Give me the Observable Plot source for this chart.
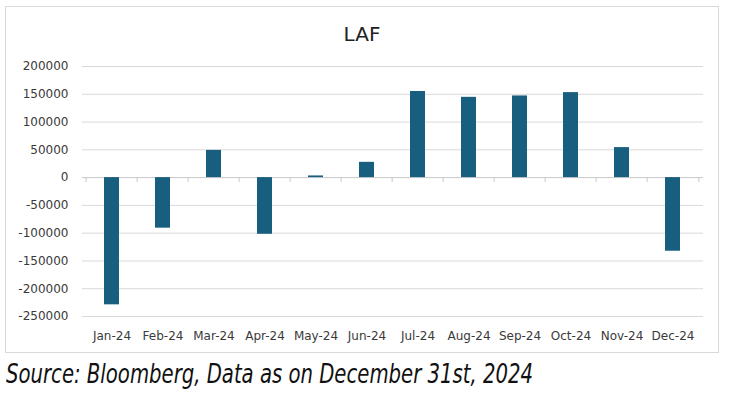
<!DOCTYPE html>
<html>
<head>
<meta charset="utf-8">
<script src="https://cdn.jsdelivr.net/npm/d3@7"></script>
<script src="https://cdn.jsdelivr.net/npm/@observablehq/plot@0.6"></script>
<style>
  html, body { margin: 0; padding: 0; background: #fff; width: 731px; height: 396px; overflow: hidden; }
  #frame { position: absolute; left: 5px; top: 6px; width: 712px; height: 345px; border: 1px solid #d9d9d9; }
  #title { position: absolute; left: 0; right: 0; top: 15px; text-align: center; font: 20px "DejaVu Sans", sans-serif; color: #222; }
  #chart { position: absolute; left: 0; top: 0; }
  #caption { position: absolute; left: 6px; top: 358px; white-space: nowrap; font-family: "DejaVu Sans Condensed", "DejaVu Sans", sans-serif; font-style: italic; font-size: 27px; line-height: 32px; color: #111; transform-origin: 0 0; }
</style>
</head>
<body>
<div id="frame">
  <div id="chart"></div>
  <div id="title">LAF</div>
</div>
<div id="caption">Source: Bloomberg, Data as on December 31st, 2024</div>
<script>
const months = ["Jan-24","Feb-24","Mar-24","Apr-24","May-24","Jun-24","Jul-24","Aug-24","Sep-24","Oct-24","Nov-24","Dec-24"];
const values = [-229000, -91000, 49000, -102000, 3000, 27500, 155000, 144500, 147000, 153000, 54000, -132500];
const yTicks = [200000, 150000, 100000, 50000, 0, -50000, -100000, -150000, -200000, -250000];

const data = months.map((m, i) => ({month: m, value: values[i]}));
const W = 712, H = 345, ML = 76, MR = 15;
const step = (W - ML - MR) / months.length;

const plot = Plot.plot({
  width: W, height: H,
  marginLeft: ML, marginRight: MR, marginTop: 59, marginBottom: 36,
  style: {fontFamily: "DejaVu Sans, sans-serif", fontSize: "12px", color: "#404040", background: "transparent"},
  x: {type: "band", domain: months, paddingInner: 0.7, paddingOuter: 0.35, label: null},
  y: {domain: [-250000, 200000], label: null},
  marks: [
    Plot.gridY(yTicks.filter(d => d !== 0), {stroke: "#d9d9d9", strokeOpacity: 1, strokeWidth: 1}),
    Plot.ruleY([0], {stroke: "#c8c8c8", strokeWidth: 1}),
    Plot.ruleX(months, {x: d => d, y1: 0, y2: -9000, dx: -step / 2, stroke: "#c8c8c8"}),
    Plot.ruleX(months.slice(-1), {x: d => d, y1: 0, y2: -9000, dx: step / 2, stroke: "#c8c8c8"}),
    Plot.barY(data, {x: "month", y: "value", fill: "#175e7f"}),
    Plot.axisY({ticks: yTicks, tickSize: 0, tickPadding: 14, tickFormat: d => String(d), fontSize: 12, fill: "#3a3a3a"}),
    Plot.axisX({tickSize: 0, tickPadding: 15, fontSize: 12, fill: "#3a3a3a", label: null})
  ]
});
document.getElementById("chart").appendChild(plot);

const cap = document.getElementById("caption");
const w = cap.getBoundingClientRect().width;
cap.style.transform = `scaleX(${527 / w})`;
</script>
</body>
</html>
